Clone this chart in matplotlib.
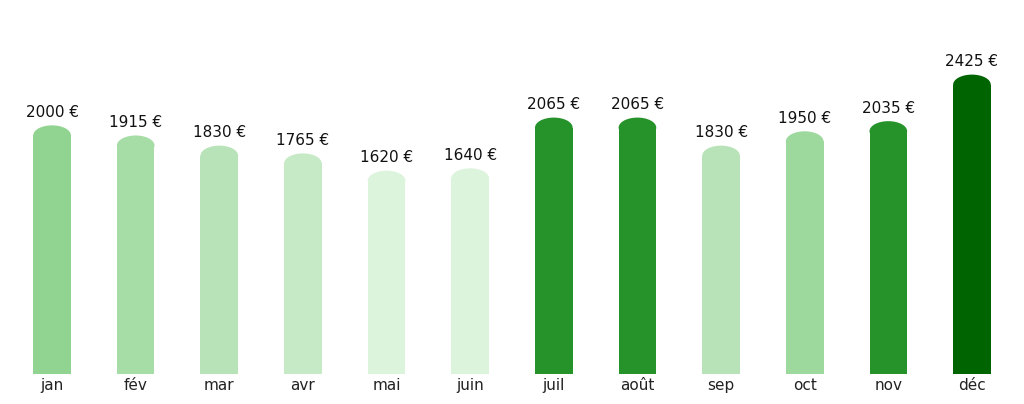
import matplotlib
matplotlib.use('Agg')
import matplotlib.pyplot as plt
from matplotlib.patches import Ellipse

# Monthly data
months = ['jan', 'fév', 'mar', 'avr', 'mai', 'juin',
          'juil', 'août', 'sep', 'oct', 'nov', 'déc']
values = [2000, 1915, 1830, 1765, 1620, 1640,
          2065, 2065, 1830, 1950, 2035, 2425]
colors = ['#91d391', '#a6dca6', '#b8e3b8', '#c6eac6', '#dcf3dc', '#dcf3dc',
          '#26932a', '#26932a', '#b8e3b8', '#9dd89d', '#26932a', '#006400']

fig = plt.figure(figsize=(10.24, 4.04), dpi=100)
ax = fig.add_axes([0.01, 0.074, 0.98, 0.926])

bar_w = 0.45
cap_h = 168  # cap height in data units

x = list(range(len(months)))
ax.bar(x, values, width=bar_w, color=colors, linewidth=0)

# rounded tops
for i, v in enumerate(values):
    ax.add_patch(Ellipse((i, v), bar_w, cap_h, color=colors[i], linewidth=0))
    ax.annotate(f'{v} €', (i, v + cap_h / 2), xytext=(0, 4),
                textcoords='offset points', ha='center', va='bottom',
                fontsize=11, color='#111111')

ax.set_xlim(-0.5, 11.5)
ax.set_ylim(0, 3134)
ax.set_xticks(x)
ax.set_xticklabels(months, fontsize=11, color='#222222')
ax.tick_params(axis='x', length=0, pad=3)
ax.set_yticks([])
for s in ax.spines.values():
    s.set_visible(False)

fig.savefig('out.png', dpi=100)
